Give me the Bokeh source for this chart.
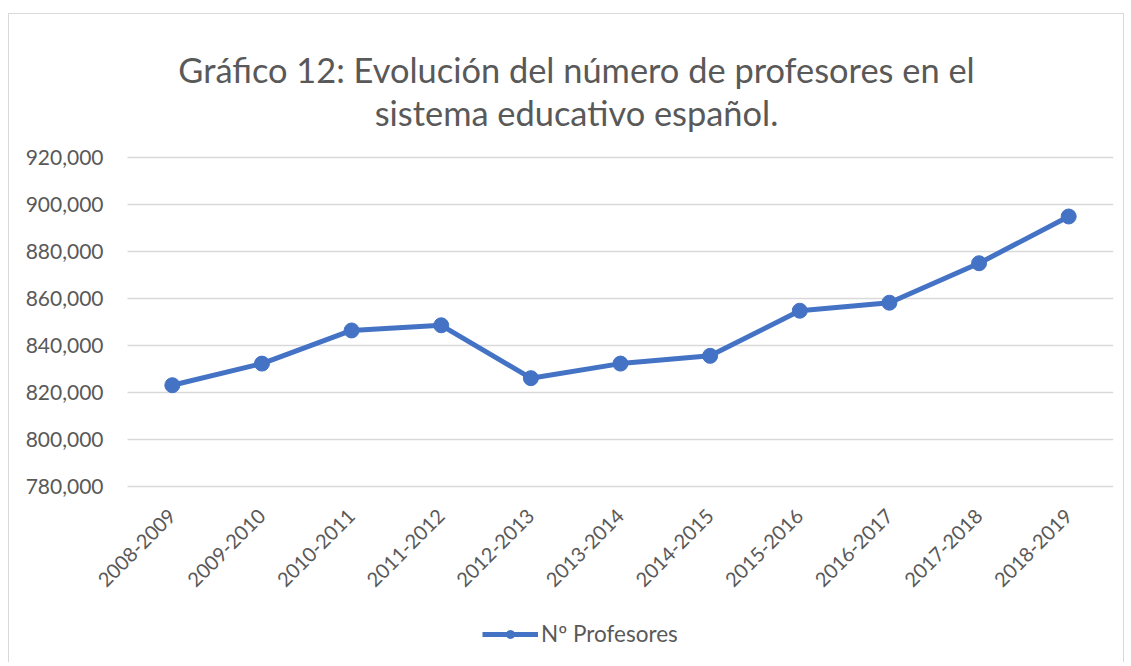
import math
from bokeh.plotting import figure
from bokeh.models import (Label, Legend, LegendItem, Range1d, NumeralTickFormatter, FixedTicker)
from bokeh.embed import file_html
from bokeh.resources import INLINE

# ---- data ----
years = ["2008-2009", "2009-2010", "2010-2011", "2011-2012", "2012-2013", "2013-2014",
         "2014-2015", "2015-2016", "2016-2017", "2017-2018", "2018-2019"]
profesores = [823100, 832300, 846400, 848600, 826100, 832300, 835600, 854800, 858200, 875000, 894900]
y_ticks = [780000, 800000, 820000, 840000, 860000, 880000, 900000, 920000]
title_line1 = "Gráfico 12: Evolución del número de profesores en el"
title_line2 = "sistema educativo español."
series_name = "Nº Profesores"

FONT = "Lato"
TEXT = "#595959"
BLUE = "#4472C4"
GRID = "#D9D9D9"

x_idx = list(range(len(years)))          # category positions
X_LO, X_HI = -0.5, len(years) - 0.5      # edges of the category band

# layout constants (pixels)
PX_PER_UNIT = 47 / 20000          # vertical scale of the value axis
ABOVE_PX = 472                    # canvas top -> 780,000 line
BELOW_PX = 176                    # 780,000 line -> canvas bottom
PX_PER_CAT = 986 / len(years)     # horizontal size of one category
LEFT_PX = 118                     # canvas left -> first category edge
Y_MIN = y_ticks[0] - BELOW_PX / PX_PER_UNIT
Y_MAX = y_ticks[0] + ABOVE_PX / PX_PER_UNIT
X_MIN = X_LO - LEFT_PX / PX_PER_CAT

p = figure(x_range=Range1d(X_MIN, X_HI), y_range=Range1d(Y_MIN, Y_MAX),
           frame_width=986 + LEFT_PX, frame_height=ABOVE_PX + BELOW_PX,
           output_backend="svg", toolbar_location=None,
           min_border_left=0, min_border_right=10, min_border_top=0, min_border_bottom=0)
p.margin = (13, 0, 0, 8)
p.styles = {"border-top": "1px solid #D9D9D9", "border-left": "1px solid #D9D9D9",
            "border-right": "1px solid #D9D9D9"}
p.outline_line_color = None
p.background_fill_color = "white"
p.border_fill_color = "white"

# horizontal gridlines over the category band only
p.xgrid.grid_line_color = None
p.ygrid.grid_line_color = None
p.segment(x0=[X_LO] * len(y_ticks), x1=[X_HI] * len(y_ticks), y0=y_ticks, y1=y_ticks,
          line_color=GRID, line_width=1.5)

line_r = p.line(x_idx, profesores, line_color=BLUE, line_width=5)
circ_r = p.scatter(x_idx, profesores, size=15, fill_color=BLUE, line_color=BLUE)

# y axis, pinned at the left edge of the category band
yax = p.left[0]
yax.fixed_location = X_LO
yax.ticker = FixedTicker(ticks=y_ticks)
yax.formatter = NumeralTickFormatter(format="0,0")
yax.axis_line_color = None
yax.major_tick_line_color = None
yax.minor_tick_line_color = None
yax.major_label_standoff = 18
yax.major_label_text_font = FONT
yax.major_label_text_font_size = "21px"
yax.major_label_text_color = TEXT

# x axis, pinned at the bottom of the value range
xax = p.below[0]
xax.fixed_location = y_ticks[0]
xax.ticker = FixedTicker(ticks=x_idx)
xax.major_label_overrides = {i: lab for i, lab in zip(x_idx, years)}
xax.axis_line_color = None
xax.major_tick_line_color = None
xax.minor_tick_line_color = None
xax.major_label_orientation = math.pi / 4
xax.major_label_standoff = 20
xax.major_label_text_font = FONT
xax.major_label_text_font_size = "20px"
xax.major_label_text_color = TEXT

# two-line title, centred over the chart
TITLE_X = X_LO + 449 / PX_PER_CAT
for txt, base_px in ((title_line1, 69), (title_line2, 112)):
    p.add_layout(Label(x=TITLE_X, y=y_ticks[0] + (486 - base_px) / PX_PER_UNIT, text=txt,
                       text_align="center", text_baseline="alphabetic", text_font=FONT,
                       text_font_size="34.4px", text_color=TEXT))

legend = Legend(items=[LegendItem(label=series_name, renderers=[line_r, circ_r])],
                orientation="horizontal", location=(473, 15),
                label_text_font=FONT, label_text_font_size="22.5px", label_text_color=TEXT,
                glyph_width=56, glyph_height=20, label_standoff=3,
                border_line_color=None, background_fill_alpha=0, margin=0, padding=0)
p.add_layout(legend, "center")

open("out.html", "w").write(file_html(p, INLINE))
